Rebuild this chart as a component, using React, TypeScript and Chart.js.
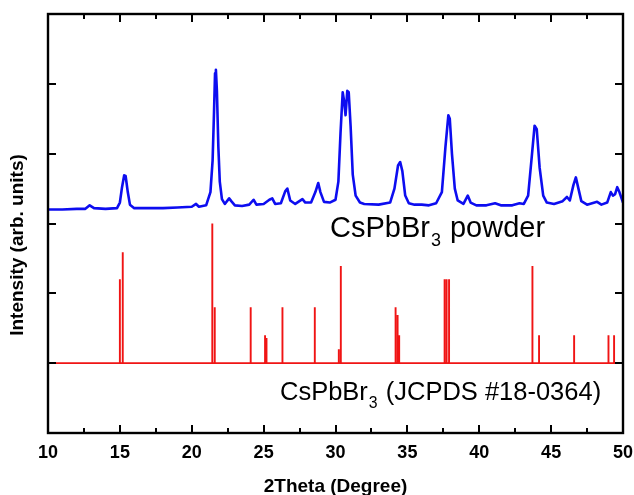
import React, { useEffect, useRef } from "react";
import { Chart, registerables } from "chart.js";
Chart.register(...registerables);

// ---- data ----
const xTickLabels = [10, 15, 20, 25, 30, 35, 40, 45, 50];
const yTickValues = [1, 2, 3, 4, 5];

// measured powder pattern (2theta, plotted intensity)
const powderX = [
  10.0, 11.0, 12.0, 12.6, 12.9, 13.2, 14.0, 14.8, 15.0, 15.15, 15.3, 15.4, 15.55, 15.7, 16.0, 17.0, 18.0, 19.0,
  20.0, 20.3, 20.5, 21.0, 21.3, 21.45, 21.55, 21.62, 21.68, 21.75, 21.85, 21.95, 22.1, 22.3, 22.6, 22.75, 23.0,
  23.5, 24.0, 24.3, 24.5, 25.0, 25.4, 25.6, 25.8, 26.2, 26.5, 26.65, 26.85, 27.2, 27.7, 27.9, 28.3, 28.6, 28.8,
  28.95, 29.2, 29.6, 30.0, 30.2, 30.35, 30.5, 30.6, 30.7, 30.82, 30.92, 31.05, 31.2, 31.4, 31.7, 32.0, 33.0,
  33.8, 34.1, 34.35, 34.5, 34.65, 34.85, 35.1, 35.5, 36.0, 36.5, 37.0, 37.4, 37.65, 37.85, 37.95, 38.1, 38.3,
  38.5, 38.9, 39.2, 39.4, 39.8, 40.5, 41.1, 41.5, 42.3, 42.8, 43.1, 43.4, 43.65, 43.85, 44.0, 44.2, 44.45,
  44.7, 45.2, 45.8, 46.1, 46.3, 46.55, 46.72, 46.9, 47.1, 47.5, 48.2, 48.5, 48.9, 49.15, 49.3, 49.45, 49.6,
  49.75, 50.0,
];
const powderY = [
  3.2, 3.2, 3.21, 3.21, 3.26, 3.22, 3.21, 3.22, 3.3, 3.52, 3.69, 3.68, 3.45, 3.27, 3.22, 3.22, 3.22, 3.23,
  3.24, 3.28, 3.24, 3.26, 3.45, 3.9, 4.6, 5.15, 5.2, 4.9, 4.1, 3.6, 3.35, 3.28, 3.36, 3.32, 3.26,
  3.25, 3.27, 3.34, 3.27, 3.28, 3.34, 3.36, 3.28, 3.29, 3.46, 3.5, 3.33, 3.28, 3.35, 3.3, 3.3, 3.45, 3.58,
  3.45, 3.31, 3.3, 3.34, 3.6, 4.3, 4.88, 4.75, 4.55, 4.9, 4.88, 4.4, 3.7, 3.4, 3.3, 3.28, 3.27,
  3.3, 3.5, 3.83, 3.88, 3.75, 3.4, 3.29, 3.27, 3.27, 3.26, 3.29, 3.45, 4.1, 4.55, 4.5, 4.0, 3.5,
  3.33, 3.28, 3.4, 3.3, 3.26, 3.26, 3.29, 3.26, 3.26, 3.29, 3.28, 3.4, 3.95, 4.4, 4.35, 3.8, 3.4,
  3.3, 3.28, 3.32, 3.38, 3.33, 3.55, 3.66, 3.5, 3.32, 3.27, 3.31, 3.27, 3.3, 3.45, 3.4, 3.42, 3.52,
  3.45, 3.3,
];

// JCPDS #18-0364 reference lines
const refPos = [15.0, 15.2, 21.43, 21.6, 24.1, 25.1, 25.2, 26.31, 28.56, 30.23, 30.37, 34.18, 34.32, 34.43,
  37.59, 37.73, 37.9, 43.7, 44.16, 46.6, 48.99, 49.38];
const refInt = [1.2, 1.59, 2.0, 0.8, 0.8, 0.4, 0.36, 0.8, 0.8, 0.2, 1.39, 0.8, 0.69, 0.4,
  1.2, 1.2, 1.2, 1.39, 0.4, 0.4, 0.4, 0.4];
const refBase = 1;

const FONT = "'Liberation Sans', Arial, Helvetica, sans-serif";

function drawFormula(ctx: CanvasRenderingContext2D, x: number, y: number, size: number, pre: string, sub: string, post: string) {
  ctx.font = `${size}px ${FONT}`;
  ctx.fillText(pre, x, y);
  let cx = x + ctx.measureText(pre).width;
  const ss = size * 0.62;
  ctx.font = `${ss}px ${FONT}`;
  ctx.fillText(sub, cx + 1, y + size * 0.3);
  cx += ctx.measureText(sub).width + 2;
  ctx.font = `${size}px ${FONT}`;
  ctx.fillText(post, cx, y);
}

const framePlugin = {
  id: "frame",
  afterDatasetsDraw(chart: any) {
    const { ctx, chartArea: a, scales } = chart;
    const xs = scales.x;
    const ys = scales.y;
    ctx.save();
    ctx.strokeStyle = "#000";
    ctx.lineWidth = 2.4;
    ctx.strokeRect(a.left, a.top, a.right - a.left, a.bottom - a.top);
    ctx.lineWidth = 2;
    ctx.beginPath();
    for (let v = 10; v <= 50; v += 2.5) {
      const px = Math.round(xs.getPixelForValue(v));
      const len = v % 5 === 0 ? 8 : 5;
      ctx.moveTo(px, a.bottom);
      ctx.lineTo(px, a.bottom - len);
      ctx.moveTo(px, a.top);
      ctx.lineTo(px, a.top + len);
    }
    for (const v of yTickValues) {
      const py = Math.round(ys.getPixelForValue(v));
      ctx.moveTo(a.left, py);
      ctx.lineTo(a.left + 8, py);
      ctx.moveTo(a.right, py);
      ctx.lineTo(a.right - 8, py);
    }
    ctx.stroke();

    ctx.fillStyle = "#000";
    ctx.textAlign = "left";
    ctx.textBaseline = "alphabetic";
    drawFormula(ctx, 330, 237, 29, "CsPbBr", "3", " powder");
    drawFormula(ctx, 280, 400, 25.5, "CsPbBr", "3", " (JCPDS #18-0364)");

    // axis titles
    ctx.font = `bold 19px ${FONT}`;
    ctx.textAlign = "center";
    ctx.textBaseline = "middle";
    ctx.fillText("2Theta (Degree)", (a.left + a.right) / 2, 487);
    ctx.save();
    ctx.translate(18, 245);
    ctx.rotate(-Math.PI / 2);
    ctx.fillText("Intensity (arb. units)", 0, 0);
    ctx.restore();
    ctx.restore();
  },
};

export default function App() {
  const ref = useRef<HTMLCanvasElement | null>(null);
  useEffect(() => {
    document.body.style.margin = "0";
    const refData: { x: number; y: number }[] = [{ x: 10, y: refBase }];
    refPos.forEach((p, i) => {
      refData.push({ x: p, y: refBase });
      refData.push({ x: p, y: refBase + refInt[i] });
      refData.push({ x: p, y: refBase });
    });
    refData.push({ x: 50, y: refBase });
    const powderData = powderX.map((x, i) => ({ x, y: powderY[i] }));

    const chart = new Chart(ref.current as HTMLCanvasElement, {
      type: "scatter",
      data: {
        datasets: [
          {
            data: refData,
            showLine: true,
            borderColor: "#f01414",
            borderWidth: 1.9,
            pointRadius: 0,
            tension: 0,
          },
          {
            data: powderData,
            showLine: true,
            borderColor: "#0d0df0",
            borderWidth: 2.6,
            pointRadius: 0,
            tension: 0,
            borderJoinStyle: "round",
          },
        ],
      },
      options: {
        animation: false,
        responsive: false,
        layout: { padding: { top: 14, right: 11, left: 0, bottom: 0 } },
        plugins: { legend: { display: false }, tooltip: { enabled: false } },
        scales: {
          x: {
            type: "linear",
            min: 10,
            max: 50,
            afterBuildTicks: (s: any) => {
              s.ticks = xTickLabels.map((v) => ({ value: v }));
            },
            afterFit: (s: any) => {
              s.height = 62;
              s.paddingLeft = 0;
              s.paddingRight = 0;
            },
            grid: { display: false, drawTicks: false },
            border: { display: false },
            ticks: {
              padding: 9,
              color: "#000",
              font: { family: FONT, size: 18, weight: "bold" },
              maxRotation: 0,
              autoSkip: false,
            },
          },
          y: {
            min: 0,
            max: 6,
            afterFit: (s: any) => {
              s.width = 48;
            },
            grid: { display: false, drawTicks: false },
            border: { display: false },
            ticks: { display: false },
          },
        },
      },
      plugins: [framePlugin],
    } as any);
    return () => chart.destroy();
  }, []);
  return <canvas ref={ref} width={634} height={495} style={{ display: "block" }} />;
}
